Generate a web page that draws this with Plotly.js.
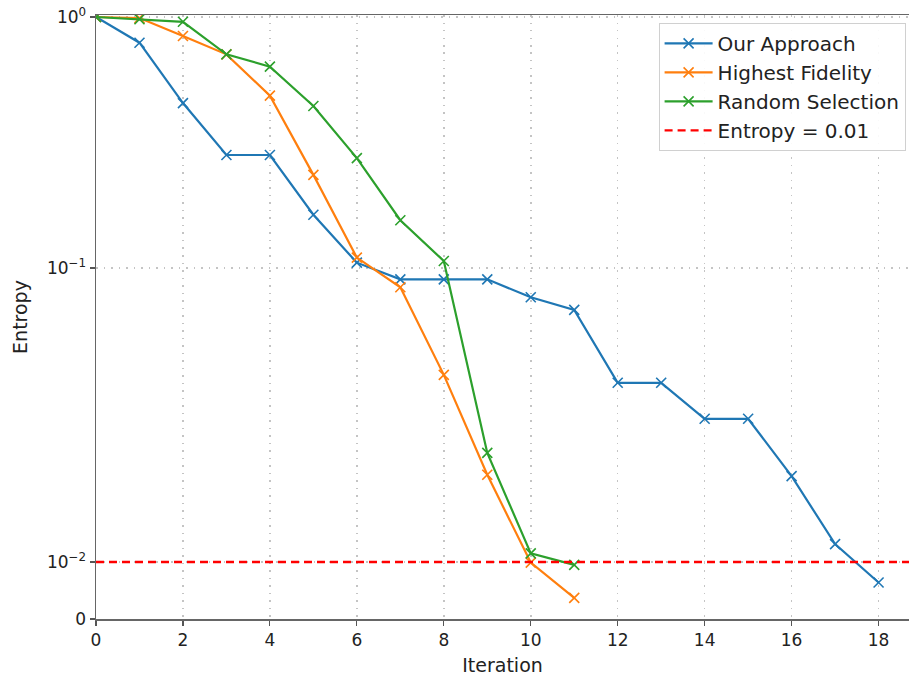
<!DOCTYPE html>
<html>
<head>
<meta charset="utf-8">
<script src="https://cdn.plot.ly/plotly-3.0.1.min.js"></script>
<style>html,body{margin:0;padding:0;background:#fff;}#chart{width:909px;height:679px;}</style>
</head>
<body>
<div id="chart"></div>
<script>
const iterations = [0,1,2,3,4,5,6,7,8,9,10,11,12,13,14,15,16,17,18];
const ourApproach = [1.0,0.79,0.454,0.282,0.282,0.163,0.105,0.0915,0.0915,0.0915,0.0795,0.072,0.0407,0.0407,0.0307,0.0307,0.0196,0.0115,0.0064];
const highestFidelity = [1.0,0.99,0.84,0.71,0.486,0.235,0.11,0.086,0.0433,0.0198,0.0099,0.0037];
const randomSelection = [1.0,0.98,0.957,0.71,0.634,0.442,0.274,0.155,0.1066,0.0235,0.0107,0.0095];
const threshold = 0.01;
const yTickValues = [0, 0.01, 0.1, 1];
const yTickLabels = ['0', '10<sup>−2</sup>', '10<sup>−1</sup>', '10<sup>0</sup>'];
const xTickValues = [0,2,4,6,8,10,12,14,16,18];

// piecewise symlog-like scale of the reference axis (linear below 0.01, log above)
function scaleY(v){
  if (v <= 0.01) return 57 * v / 0.01;
  if (v <= 0.1) return 57 + 294 * Math.log10(v / 0.01);
  return 351 + 251 * Math.log10(v / 0.1);
}

const mk = (name, ys, color) => ({
  x: iterations.slice(0, ys.length),
  y: ys.map(scaleY),
  customdata: ys,
  hovertemplate: '%{customdata}<extra>' + name + '</extra>',
  name: name,
  type: 'scatter',
  mode: 'lines+markers',
  line: {color: color, width: 2.2},
  marker: {symbol: 'x-thin-open', size: 10, line: {color: color, width: 1.6}, color: color}
});

const traces = [
  mk('Our Approach', ourApproach, '#1f77b4'),
  mk('Highest Fidelity', highestFidelity, '#ff7f0e'),
  mk('Random Selection', randomSelection, '#2ca02c'),
  {
    x: [0, 18.7], y: [scaleY(threshold), scaleY(threshold)],
    name: 'Entropy = 0.01', type: 'scatter', mode: 'lines',
    line: {color: 'red', width: 2.4, dash: '8px,5px'}
  }
];

const layout = {
  width: 909, height: 679,
  margin: {l: 96, r: 0, t: 15, b: 60},
  paper_bgcolor: '#fff', plot_bgcolor: '#fff',
  font: {family: 'DejaVu Sans', size: 17, color: '#222'},
  showlegend: true,
  legend: {
    x: 0.692, y: 0.987, xanchor: 'left', yanchor: 'top',
    bordercolor: '#d0d0d0', borderwidth: 1, bgcolor: 'rgba(255,255,255,0.9)',
    font: {family: 'DejaVu Sans', size: 20, color: '#222'},
    itemwidth: 48, tracegroupgap: 0
  },
  xaxis: {
    range: [0, 18.7],
    tickvals: xTickValues,
    ticks: 'outside', ticklen: 5, tickwidth: 1.2, tickcolor: '#555',
    showline: true, linecolor: '#666', linewidth: 1.5, mirror: true,
    showgrid: true, gridcolor: '#c4c4c4', griddash: '1.5px,6px', gridwidth: 1.5,
    zeroline: false,
    tickfont: {size: 17},
    title: {text: 'Iteration', font: {size: 19}, standoff: 10}
  },
  yaxis: {
    range: [0, 604],
    tickvals: yTickValues.map(scaleY),
    ticktext: yTickLabels,
    ticks: 'outside', ticklen: 5, tickwidth: 1.2, tickcolor: '#555',
    showline: true, linecolor: '#666', linewidth: 1.5,
    showgrid: true, gridcolor: '#c4c4c4', griddash: '1.5px,6px', gridwidth: 1.5,
    zeroline: false,
    tickfont: {size: 17},
    title: {text: 'Entropy', font: {size: 19}, standoff: 14}
  }
};

Plotly.newPlot('chart', traces, layout, {displayModeBar: false, staticPlot: true});
</script>
</body>
</html>
